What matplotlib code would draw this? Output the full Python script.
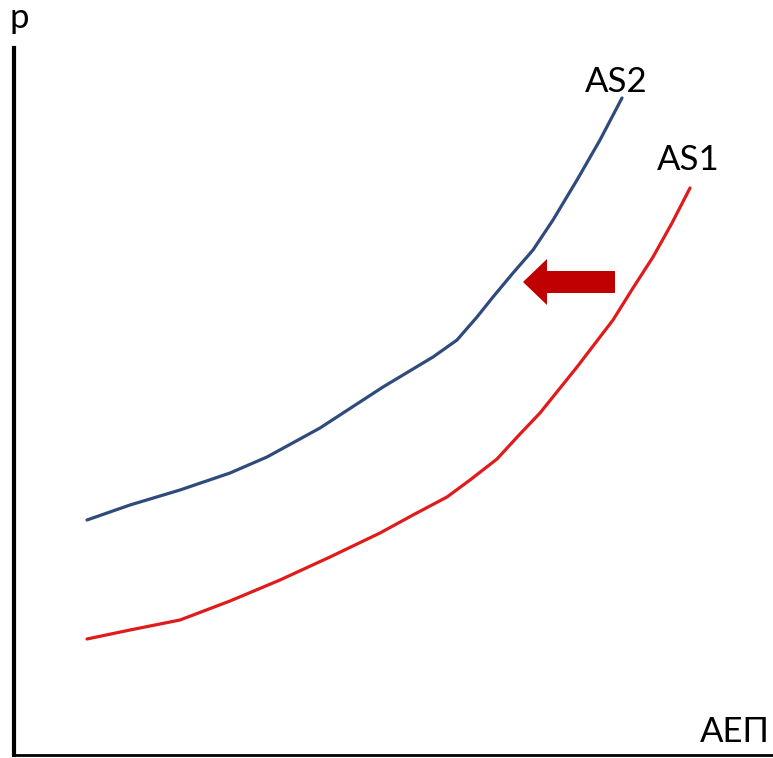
#!/usr/bin/python3
# plot.py: AS1 -> AS2 shift (aggregate supply curves, p vs AEΠ)

import matplotlib
matplotlib.use("Agg")
import matplotlib.pyplot as plt
from matplotlib.patches import FancyArrow

plt.rcParams["font.family"] = ["Lato", "DejaVu Sans"]

# curve points (x = output, y = price level)
as2_x = [73, 116, 166, 216, 253, 306, 369, 419, 443, 463, 479, 499, 519,
         539, 563, 586, 608]
as2_y = [235, 250, 265, 282, 298, 327, 368, 398, 415, 438, 458, 482, 505,
         535, 575, 615, 657]

as1_x = [73, 116, 166, 216, 266, 316, 366, 399, 433, 456, 483, 506, 526,
         563, 599, 619, 639, 658, 676]
as1_y = [116, 125, 135, 154, 175, 198, 222, 240, 258, 275, 296, 321, 342,
         388, 435, 467, 498, 532, 567]

_BLUE = "#2f4b7c"
_RED = "#e01b1b"
_DARKRED = "#c00000"

fig = plt.figure(figsize=(7.73, 7.58), dpi=100)
ax = fig.add_axes([14 / 773, 3 / 758, 759 / 773, 707 / 758])
ax.set_xlim(0, 759)
ax.set_ylim(0, 707)

ax.plot(as2_x, as2_y, color=_BLUE, lw=2.3, solid_capstyle="round",
        solid_joinstyle="round")
ax.plot(as1_x, as1_y, color=_RED, lw=2.3, solid_capstyle="round",
        solid_joinstyle="round")

# shift arrow (right -> left)
ax.add_patch(FancyArrow(601, 473, -92, 0, width=22, head_width=46,
                        head_length=24, length_includes_head=True,
                        color=_DARKRED, lw=0))

ax.text(602, 663, "AS2", fontsize=25, ha="center", va="baseline")
ax.text(674, 585, "AS1", fontsize=25, ha="center", va="baseline")
ax.text(721, 13, "AEΠ", fontsize=25, ha="center", va="baseline")
ax.text(5, 727, "p", fontsize=25, ha="center", va="baseline", clip_on=False)

for side in ("top", "right"):
    ax.spines[side].set_visible(False)
ax.spines["left"].set_linewidth(3)
ax.spines["bottom"].set_linewidth(2)
ax.set_xticks([])
ax.set_yticks([])

fig.savefig("out.png", dpi=100)
